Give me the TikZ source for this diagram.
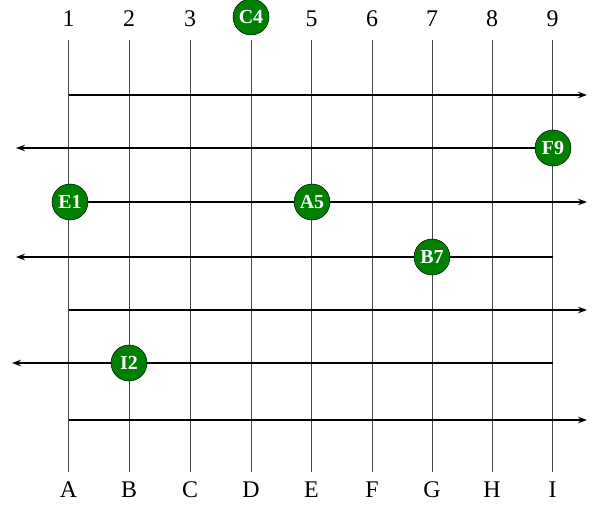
\documentclass[tikz,border=0pt]{standalone}
\usepackage{fontspec}
\setmainfont{Liberation Serif}
\usetikzlibrary{arrows.meta}
\begin{document}
\begin{tikzpicture}[x=1bp,y=-1bp,
  collabel/.style={inner sep=0pt,font=\fontsize{24}{24}\selectfont},
  gridline/.style={line width=0.9bp,draw=black!72},
  track/.style={line width=1.8bp,draw=black},
  trackarrow/.style={track,-{Stealth[length=9bp,width=6.5bp]}},
  car/.style={circle,draw=black,line width=0.5bp,fill=green!50!black,minimum size=36bp,inner sep=0pt,text=white,font=\fontsize{20}{20}\selectfont\bfseries}]
\useasboundingbox (0,0) rectangle (596,506);
% column positions
\foreach \i/\x/\t/\b in {1/68.5/1/A,2/129/2/B,3/190/3/C,4/251/4/D,5/311.5/5/E,6/372/6/F,7/432/7/G,8/492/8/H,9/552.5/9/I}{
  \coordinate (vt\i) at (\x,40);
  \coordinate (vb\i) at (\x,472);
  \draw[gridline] (vt\i) -- (vb\i);
  \node[collabel] (bot\i) at (\x,490) {\b};
}
\foreach \i/\x in {1/68.5,2/129,3/190,5/311.5,6/372,7/432,8/492,9/552.5}{
  \node[collabel] (top\i) at (\x,19) {\i};
}
% track end points
\coordinate (r1s) at (68.5,95);  \coordinate (r1e) at (587,95);
\coordinate (r2e) at (16,148);
\coordinate (r3e) at (587,202);
\coordinate (r4s) at (552.5,257); \coordinate (r4e) at (16,257);
\coordinate (r5s) at (68.5,310); \coordinate (r5e) at (587,310);
\coordinate (r6s) at (552.5,363); \coordinate (r6e) at (12,363);
\coordinate (r7s) at (68.5,420); \coordinate (r7e) at (587,420);
% cars
\node[car] (C4) at (251,17) {C4};
\node[car] (F9) at (553,148) {F9};
\node[car] (E1) at (70,202) {E1};
\node[car] (A5) at (312,202) {A5};
\node[car] (B7) at (432,257) {B7};
\node[car] (I2) at (129,363) {I2};
% tracks
\draw[trackarrow] (r1s) -- (r1e);
\draw[trackarrow] (F9) -- (r2e);
\draw[track] (E1) -- (A5);
\draw[trackarrow] (A5) -- (r3e);
\draw[track] (r4s) -- (B7);
\draw[trackarrow] (B7) -- (r4e);
\draw[trackarrow,line width=1.3bp] (r5s) -- (r5e);
\draw[track,line width=1.4bp] (r6s) -- (I2);
\draw[trackarrow,line width=1.4bp] (I2) -- (r6e);
\draw[trackarrow] (r7s) -- (r7e);
\end{tikzpicture}
\end{document}
